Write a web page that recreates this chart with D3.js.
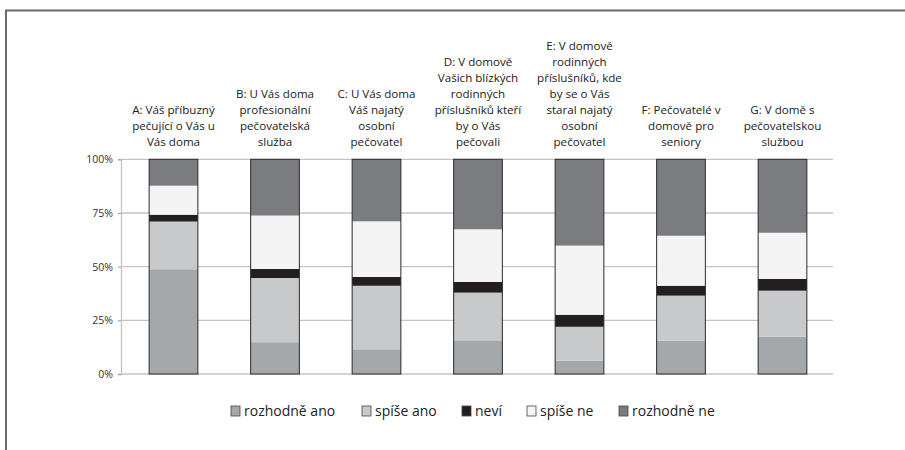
<!DOCTYPE html>
<html><head><meta charset="utf-8">
<script src="https://cdn.jsdelivr.net/npm/d3@7/dist/d3.min.js"></script>
<style>body{margin:0;background:#fff}svg{display:block;font-family:"Open Sans",sans-serif}</style>
</head><body><svg id="c" width="905" height="450"></svg>
<script>
const categories = ["A","B","C","D","E","F","G"];
const categoryLabels = [
  ["A: Váš příbuzný","pečující o Vás u","Vás doma"],
  ["B: U Vás doma","profesionální","pečovatelská","služba"],
  ["C: U Vás doma","Váš najatý","osobní","pečovatel"],
  ["D: V domově","Vašich blízkých","rodinných","příslušníků kteří","by o Vás","pečovali"],
  ["E: V domově","rodinných","příslušníků, kde","by se o Vás","staral najatý","osobní","pečovatel"],
  ["F: Pečovatelé v","domově pro","seniory"],
  ["G: V domě s","pečovatelskou","službou"]
];
const seriesNames = ["rozhodně ano","spíše ano","neví","spíše ne","rozhodně ne"];
const rozhodneAno = [48.8,14.8,11.5,15.7,6.2,15.5,17.4];
const spiseAno    = [22.2,29.9,29.6,22.2,15.8,21.0,21.4];
const nevi        = [3.2,4.2,4.1,5.0,5.6,4.6,5.5];
const spiseNe     = [13.5,24.9,25.9,24.5,32.2,23.3,21.5];
const rozhodneNe  = [12.3,26.2,28.9,32.6,40.2,35.6,34.2];
const tickValues = [0,25,50,75,100];
const colors = ["#a5a8ab","#c8c9cb","#231f20","#f3f4f3","#7b7c80"];

const seriesData = [rozhodneAno,spiseAno,nevi,spiseNe,rozhodneNe];
const rows = categories.map((c,i)=>{const o={cat:c};seriesNames.forEach((s,j)=>o[s]=seriesData[j][i]);return o;});
const stack = d3.stack().keys(seriesNames).offset(d3.stackOffsetExpand);
const layers = stack(rows);

const svg = d3.select("#c");
// frame
svg.append("path").attr("d","M6,450 V10.5 H905").attr("fill","none").attr("stroke","#6b6b6b").attr("stroke-width",2);

const x = d3.scaleBand().domain(categories).range([122.75,833.25]).paddingInner(0.52).paddingOuter(0.26);
const y = d3.scaleLinear().domain([0,1]).range([374,159.3]);

// gridlines
svg.append("g").selectAll("line").data(tickValues).join("line")
  .attr("x1",121).attr("x2",833).attr("y1",d=>y(d/100)).attr("y2",d=>y(d/100))
  .attr("stroke","#c4c4c4").attr("stroke-width",1.3);

// y axis
const yAxis = d3.axisLeft(y).tickValues(tickValues.map(d=>d/100)).tickFormat(d=>Math.round(d*100)+"%").tickSize(3).tickPadding(5);
const ga = svg.append("g").attr("transform","translate(121,0)").call(yAxis);
ga.select(".domain").attr("stroke","#c4c4c4").attr("stroke-width",1.3);
ga.selectAll(".tick line").attr("stroke","#999");
ga.selectAll("text").attr("font-size",10.5).attr("fill","#333").attr("font-family","'Open Sans',sans-serif");

// bars
svg.append("g").selectAll("g").data(layers).join("g").attr("fill",(d,i)=>colors[i])
  .selectAll("rect").data(d=>d).join("rect")
  .attr("x",d=>x(d.data.cat)).attr("width",x.bandwidth())
  .attr("y",d=>y(d[1])).attr("height",d=>y(d[0])-y(d[1]));
// outlines
svg.append("g").selectAll("rect").data(categories).join("rect")
  .attr("x",d=>x(d)).attr("width",x.bandwidth()).attr("y",y(1)).attr("height",y(0)-y(1))
  .attr("fill","none").attr("stroke","#2a2a2a").attr("stroke-width",1);

// category labels
const lh = 16;
const lg = svg.append("g").attr("font-size",11.6).attr("fill","#222").attr("text-anchor","middle");
categoryLabels.forEach((lines,i)=>{
  const cx = x(categories[i]) + x.bandwidth()/2;
  const n = lines.length;
  lines.forEach((t,k)=>{
    lg.append("text").attr("x",cx).attr("y",146 - (n-1-k)*lh).text(t);
  });
});

// legend
const legX = [231,362,462,527,619];
const leg = svg.append("g");
seriesNames.forEach((s,i)=>{
  const g = leg.append("g").attr("transform",`translate(${legX[i]},406)`);
  g.append("rect").attr("width",9).attr("height",10).attr("fill",colors[i]).attr("stroke","#444").attr("stroke-width",0.8);
  g.append("text").attr("x",13).attr("y",10).attr("font-size",14).attr("fill","#222").text(s);
});
</script></body></html>
